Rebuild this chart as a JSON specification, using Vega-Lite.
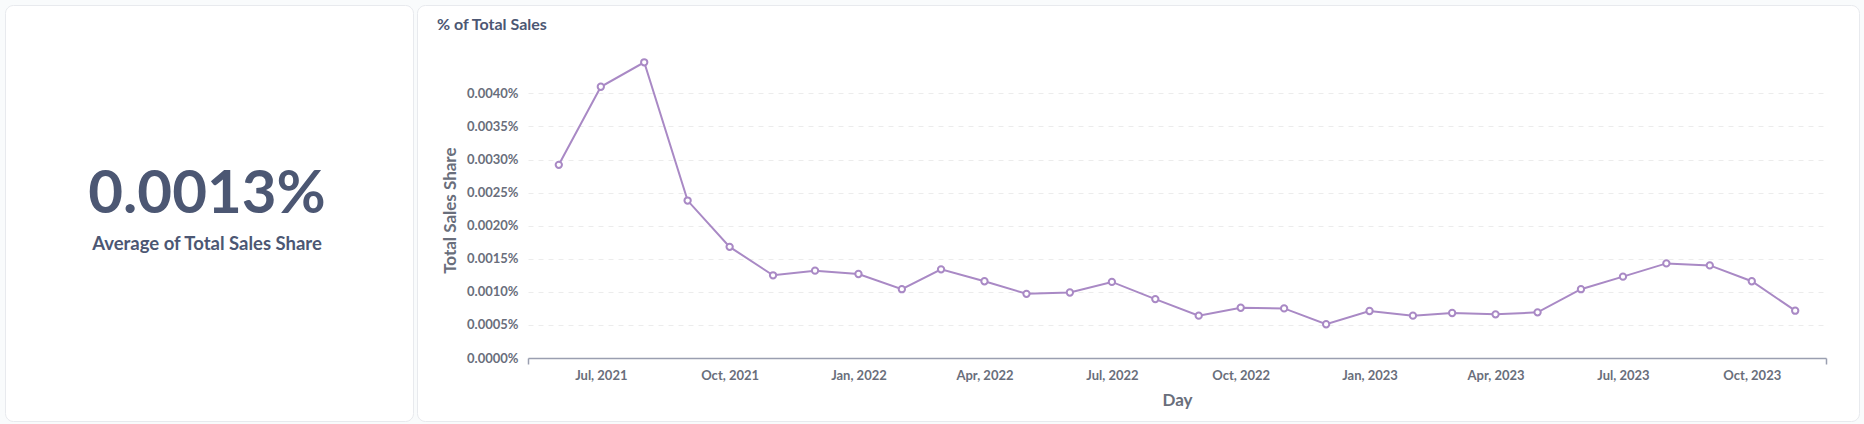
{
  "$schema": "https://vega.github.io/schema/vega-lite/v6.json",
  "background": "#f9fbfc",
  "padding": {"left": 4, "top": 4, "right": 6, "bottom": 4},
  "spacing": 2,
  "config": {
    "font": "Lato",
    "view": {"fill": "white", "stroke": "#e8eaee", "cornerRadius": 8}
  },
  "datasets": {
    "sales": [
      {"day": "2021-06-01", "share": 0.0000292},
      {"day": "2021-07-01", "share": 0.0000410},
      {"day": "2021-08-01", "share": 0.0000447},
      {"day": "2021-09-01", "share": 0.0000238},
      {"day": "2021-10-01", "share": 0.0000168},
      {"day": "2021-11-01", "share": 0.0000125},
      {"day": "2021-12-01", "share": 0.0000132},
      {"day": "2022-01-01", "share": 0.0000127},
      {"day": "2022-02-01", "share": 0.0000104},
      {"day": "2022-03-01", "share": 0.0000134},
      {"day": "2022-04-01", "share": 0.0000116},
      {"day": "2022-05-01", "share": 0.0000097},
      {"day": "2022-06-01", "share": 0.0000099},
      {"day": "2022-07-01", "share": 0.0000115},
      {"day": "2022-08-01", "share": 0.0000089},
      {"day": "2022-09-01", "share": 0.0000064},
      {"day": "2022-10-01", "share": 0.0000076},
      {"day": "2022-11-01", "share": 0.0000075},
      {"day": "2022-12-01", "share": 0.0000051},
      {"day": "2023-01-01", "share": 0.0000071},
      {"day": "2023-02-01", "share": 0.0000064},
      {"day": "2023-03-01", "share": 0.0000068},
      {"day": "2023-04-01", "share": 0.0000066},
      {"day": "2023-05-01", "share": 0.0000069},
      {"day": "2023-06-01", "share": 0.0000104},
      {"day": "2023-07-01", "share": 0.0000123},
      {"day": "2023-08-01", "share": 0.0000143},
      {"day": "2023-09-01", "share": 0.0000140},
      {"day": "2023-10-01", "share": 0.0000116},
      {"day": "2023-11-01", "share": 0.00000715}
    ]
  },
  "hconcat": [
    {
      "width": 408,
      "height": 416,
      "view": {"fill": "white", "stroke": "#e8eaee", "cornerRadius": 8},
      "data": {"name": "sales"},
      "transform": [{"aggregate": [{"op": "mean", "field": "share", "as": "avg"}]}],
      "layer": [
        {
          "mark": {"type": "text", "font": "Lato", "fontWeight": "bold", "fontSize": 60, "color": "#4c5773", "dy": -18, "dx": -2},
          "encoding": {"text": {"field": "avg", "type": "quantitative", "format": ".4%"}}
        },
        {
          "mark": {"type": "text", "font": "Lato", "fontWeight": "bold", "fontSize": 18.5, "color": "#4c5773", "dy": 31, "dx": -2, "text": "Average of Total Sales Share"},
          "encoding": {}
        }
      ]
    },
    {
      "width": 1442,
      "height": 416,
      "data": {"name": "sales"},
      "title": {
        "text": "% of Total Sales",
        "anchor": "start",
        "frame": "group",
        "orient": "top",
        "offset": -28,
        "dx": 20,
        "font": "Lato",
        "fontSize": 16,
        "fontWeight": "bold",
        "color": "#4c5773"
      },
      "encoding": {
        "x": {
          "field": "day",
          "type": "temporal",
          "title": "Day",
          "scale": {
            "type": "utc",
            "domain": [
              {"year": 2021, "month": 5, "date": 10, "utc": true},
              {"year": 2023, "month": 11, "date": 23, "utc": true}
            ],
            "range": [111, 1409]
          },
          "axis": {
            "orient": "bottom",
            "offset": -63,
            "values": [
              {"year": 2021, "month": 5, "date": 10, "utc": true},
              {"year": 2021, "month": 7, "date": 1, "utc": true},
              {"year": 2021, "month": 10, "date": 1, "utc": true},
              {"year": 2022, "month": 1, "date": 1, "utc": true},
              {"year": 2022, "month": 4, "date": 1, "utc": true},
              {"year": 2022, "month": 7, "date": 1, "utc": true},
              {"year": 2022, "month": 10, "date": 1, "utc": true},
              {"year": 2023, "month": 1, "date": 1, "utc": true},
              {"year": 2023, "month": 4, "date": 1, "utc": true},
              {"year": 2023, "month": 7, "date": 1, "utc": true},
              {"year": 2023, "month": 10, "date": 1, "utc": true},
              {"year": 2023, "month": 11, "date": 23, "utc": true}
            ],
            "labelExpr": "utcdate(datum.value) == 1 ? utcFormat(datum.value, '%b, %Y') : ''",
            "grid": false,
            "domainColor": "#9a9fb0",
            "domainWidth": 1.5,
            "tickColor": "#9a9fb0",
            "tickWidth": 1.5,
            "tickSize": 6,
            "tickOpacity": {"condition": {"test": "utcdate(datum.value) != 1", "value": 1}, "value": 0},
            "labelPadding": 5,
            "labelFont": "Lato",
            "labelFontSize": 13,
            "labelFontWeight": "bold",
            "labelColor": "#696e7b",
            "labelOverlap": false,
            "titleFont": "Lato",
            "titleFontSize": 17,
            "titleFontWeight": "bold",
            "titleColor": "#696e7b",
            "titlePadding": 10
          }
        },
        "y": {
          "field": "share",
          "type": "quantitative",
          "title": "Total Sales Share",
          "scale": {"domain": [0, 0.0000447], "nice": false, "range": [353, 57.3]},
          "axis": {
            "orient": "left",
            "offset": -111,
            "values": [0, 0.000005, 0.00001, 0.000015, 0.00002, 0.000025, 0.00003, 0.000035, 0.00004],
            "format": ".4%",
            "domain": false,
            "ticks": false,
            "grid": true,
            "gridColor": "#ececec",
            "gridDash": [5, 5],
            "gridWidth": 1,
            "labelPadding": 10,
            "labelFont": "Lato",
            "labelFontSize": 13,
            "labelFontWeight": "bold",
            "labelColor": "#696e7b",
            "titleFont": "Lato",
            "titleFontSize": 17,
            "titleFontWeight": "bold",
            "titleColor": "#696e7b",
            "titlePadding": 7
          }
        }
      },
      "layer": [
        {
          "mark": {"type": "line", "color": "#a989c5", "strokeWidth": 2}
        },
        {
          "mark": {"type": "point", "shape": "circle", "filled": true, "fill": "white", "stroke": "#a989c5", "strokeWidth": 2, "size": 40, "opacity": 1}
        }
      ]
    }
  ]
}
